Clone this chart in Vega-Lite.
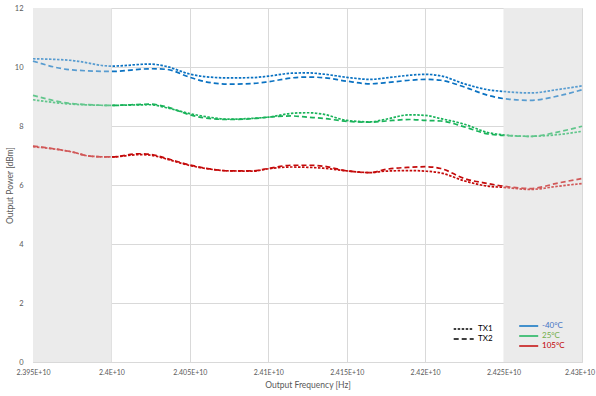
{
  "$schema": "https://vega.github.io/schema/vega-lite/v6.json",
  "autosize": "none",
  "width": 549,
  "height": 354,
  "padding": {"left": 33, "top": 8, "right": 14, "bottom": 34},
  "background": "white",
  "config": {
    "view": {"stroke": null},
    "font": "Lato",
    "axis": {
      "labelFont": "Lato", "labelFontSize": 7.5, "labelColor": "#595959",
      "titleFont": "Lato", "titleFontSize": 8.5, "titleColor": "#595959", "titleFontWeight": "normal",
      "gridColor": "#d9d9d9", "gridWidth": 1, "domainColor": "#d9d9d9", "ticks": false
    }
  },
  "datasets": {
    "bands": [
      {"start": 23950000000, "end": 24000000000},
      {"start": 24250000000, "end": 24300000000}
    ],
    "power": [
      {"f": 23950000000, "p": 10.28, "tx": "TX1", "t": "-40°C"},
      {"f": 23975000000, "p": 10.22, "tx": "TX1", "t": "-40°C"},
      {"f": 24000000000, "p": 10.03, "tx": "TX1", "t": "-40°C"},
      {"f": 24025000000, "p": 10.1, "tx": "TX1", "t": "-40°C"},
      {"f": 24035000000, "p": 10.02, "tx": "TX1", "t": "-40°C"},
      {"f": 24050000000, "p": 9.76, "tx": "TX1", "t": "-40°C"},
      {"f": 24060000000, "p": 9.67, "tx": "TX1", "t": "-40°C"},
      {"f": 24075000000, "p": 9.63, "tx": "TX1", "t": "-40°C"},
      {"f": 24090000000, "p": 9.64, "tx": "TX1", "t": "-40°C"},
      {"f": 24100000000, "p": 9.69, "tx": "TX1", "t": "-40°C"},
      {"f": 24115000000, "p": 9.79, "tx": "TX1", "t": "-40°C"},
      {"f": 24125000000, "p": 9.8, "tx": "TX1", "t": "-40°C"},
      {"f": 24135000000, "p": 9.76, "tx": "TX1", "t": "-40°C"},
      {"f": 24150000000, "p": 9.65, "tx": "TX1", "t": "-40°C"},
      {"f": 24165000000, "p": 9.58, "tx": "TX1", "t": "-40°C"},
      {"f": 24175000000, "p": 9.63, "tx": "TX1", "t": "-40°C"},
      {"f": 24190000000, "p": 9.72, "tx": "TX1", "t": "-40°C"},
      {"f": 24200000000, "p": 9.75, "tx": "TX1", "t": "-40°C"},
      {"f": 24210000000, "p": 9.7, "tx": "TX1", "t": "-40°C"},
      {"f": 24225000000, "p": 9.43, "tx": "TX1", "t": "-40°C"},
      {"f": 24240000000, "p": 9.23, "tx": "TX1", "t": "-40°C"},
      {"f": 24250000000, "p": 9.17, "tx": "TX1", "t": "-40°C"},
      {"f": 24267000000, "p": 9.12, "tx": "TX1", "t": "-40°C"},
      {"f": 24285000000, "p": 9.24, "tx": "TX1", "t": "-40°C"},
      {"f": 24300000000, "p": 9.36, "tx": "TX1", "t": "-40°C"},

      {"f": 23950000000, "p": 10.2, "tx": "TX2", "t": "-40°C"},
      {"f": 23975000000, "p": 9.9, "tx": "TX2", "t": "-40°C"},
      {"f": 24000000000, "p": 9.85, "tx": "TX2", "t": "-40°C"},
      {"f": 24025000000, "p": 9.94, "tx": "TX2", "t": "-40°C"},
      {"f": 24035000000, "p": 9.92, "tx": "TX2", "t": "-40°C"},
      {"f": 24050000000, "p": 9.65, "tx": "TX2", "t": "-40°C"},
      {"f": 24060000000, "p": 9.5, "tx": "TX2", "t": "-40°C"},
      {"f": 24075000000, "p": 9.42, "tx": "TX2", "t": "-40°C"},
      {"f": 24090000000, "p": 9.44, "tx": "TX2", "t": "-40°C"},
      {"f": 24100000000, "p": 9.5, "tx": "TX2", "t": "-40°C"},
      {"f": 24115000000, "p": 9.63, "tx": "TX2", "t": "-40°C"},
      {"f": 24125000000, "p": 9.66, "tx": "TX2", "t": "-40°C"},
      {"f": 24135000000, "p": 9.64, "tx": "TX2", "t": "-40°C"},
      {"f": 24150000000, "p": 9.52, "tx": "TX2", "t": "-40°C"},
      {"f": 24165000000, "p": 9.43, "tx": "TX2", "t": "-40°C"},
      {"f": 24175000000, "p": 9.47, "tx": "TX2", "t": "-40°C"},
      {"f": 24190000000, "p": 9.55, "tx": "TX2", "t": "-40°C"},
      {"f": 24200000000, "p": 9.58, "tx": "TX2", "t": "-40°C"},
      {"f": 24210000000, "p": 9.55, "tx": "TX2", "t": "-40°C"},
      {"f": 24225000000, "p": 9.32, "tx": "TX2", "t": "-40°C"},
      {"f": 24240000000, "p": 9.04, "tx": "TX2", "t": "-40°C"},
      {"f": 24250000000, "p": 8.93, "tx": "TX2", "t": "-40°C"},
      {"f": 24267000000, "p": 8.87, "tx": "TX2", "t": "-40°C"},
      {"f": 24285000000, "p": 9.02, "tx": "TX2", "t": "-40°C"},
      {"f": 24300000000, "p": 9.23, "tx": "TX2", "t": "-40°C"},

      {"f": 23950000000, "p": 8.89, "tx": "TX1", "t": "25°C"},
      {"f": 23975000000, "p": 8.74, "tx": "TX1", "t": "25°C"},
      {"f": 24000000000, "p": 8.7, "tx": "TX1", "t": "25°C"},
      {"f": 24025000000, "p": 8.72, "tx": "TX1", "t": "25°C"},
      {"f": 24035000000, "p": 8.62, "tx": "TX1", "t": "25°C"},
      {"f": 24050000000, "p": 8.42, "tx": "TX1", "t": "25°C"},
      {"f": 24060000000, "p": 8.32, "tx": "TX1", "t": "25°C"},
      {"f": 24075000000, "p": 8.23, "tx": "TX1", "t": "25°C"},
      {"f": 24090000000, "p": 8.26, "tx": "TX1", "t": "25°C"},
      {"f": 24100000000, "p": 8.3, "tx": "TX1", "t": "25°C"},
      {"f": 24115000000, "p": 8.43, "tx": "TX1", "t": "25°C"},
      {"f": 24125000000, "p": 8.45, "tx": "TX1", "t": "25°C"},
      {"f": 24135000000, "p": 8.4, "tx": "TX1", "t": "25°C"},
      {"f": 24150000000, "p": 8.19, "tx": "TX1", "t": "25°C"},
      {"f": 24165000000, "p": 8.14, "tx": "TX1", "t": "25°C"},
      {"f": 24175000000, "p": 8.23, "tx": "TX1", "t": "25°C"},
      {"f": 24190000000, "p": 8.38, "tx": "TX1", "t": "25°C"},
      {"f": 24200000000, "p": 8.36, "tx": "TX1", "t": "25°C"},
      {"f": 24210000000, "p": 8.25, "tx": "TX1", "t": "25°C"},
      {"f": 24225000000, "p": 8.06, "tx": "TX1", "t": "25°C"},
      {"f": 24240000000, "p": 7.78, "tx": "TX1", "t": "25°C"},
      {"f": 24250000000, "p": 7.7, "tx": "TX1", "t": "25°C"},
      {"f": 24267000000, "p": 7.65, "tx": "TX1", "t": "25°C"},
      {"f": 24285000000, "p": 7.71, "tx": "TX1", "t": "25°C"},
      {"f": 24300000000, "p": 7.82, "tx": "TX1", "t": "25°C"},

      {"f": 23950000000, "p": 9.04, "tx": "TX2", "t": "25°C"},
      {"f": 23975000000, "p": 8.76, "tx": "TX2", "t": "25°C"},
      {"f": 24000000000, "p": 8.7, "tx": "TX2", "t": "25°C"},
      {"f": 24025000000, "p": 8.74, "tx": "TX2", "t": "25°C"},
      {"f": 24035000000, "p": 8.65, "tx": "TX2", "t": "25°C"},
      {"f": 24050000000, "p": 8.38, "tx": "TX2", "t": "25°C"},
      {"f": 24060000000, "p": 8.27, "tx": "TX2", "t": "25°C"},
      {"f": 24075000000, "p": 8.22, "tx": "TX2", "t": "25°C"},
      {"f": 24090000000, "p": 8.25, "tx": "TX2", "t": "25°C"},
      {"f": 24100000000, "p": 8.3, "tx": "TX2", "t": "25°C"},
      {"f": 24115000000, "p": 8.34, "tx": "TX2", "t": "25°C"},
      {"f": 24125000000, "p": 8.3, "tx": "TX2", "t": "25°C"},
      {"f": 24135000000, "p": 8.26, "tx": "TX2", "t": "25°C"},
      {"f": 24150000000, "p": 8.16, "tx": "TX2", "t": "25°C"},
      {"f": 24165000000, "p": 8.13, "tx": "TX2", "t": "25°C"},
      {"f": 24175000000, "p": 8.17, "tx": "TX2", "t": "25°C"},
      {"f": 24190000000, "p": 8.22, "tx": "TX2", "t": "25°C"},
      {"f": 24200000000, "p": 8.19, "tx": "TX2", "t": "25°C"},
      {"f": 24210000000, "p": 8.17, "tx": "TX2", "t": "25°C"},
      {"f": 24225000000, "p": 7.97, "tx": "TX2", "t": "25°C"},
      {"f": 24240000000, "p": 7.73, "tx": "TX2", "t": "25°C"},
      {"f": 24250000000, "p": 7.68, "tx": "TX2", "t": "25°C"},
      {"f": 24267000000, "p": 7.65, "tx": "TX2", "t": "25°C"},
      {"f": 24285000000, "p": 7.8, "tx": "TX2", "t": "25°C"},
      {"f": 24300000000, "p": 7.99, "tx": "TX2", "t": "25°C"},

      {"f": 23950000000, "p": 7.3, "tx": "TX1", "t": "105°C"},
      {"f": 23975000000, "p": 7.12, "tx": "TX1", "t": "105°C"},
      {"f": 23986000000, "p": 6.98, "tx": "TX1", "t": "105°C"},
      {"f": 24000000000, "p": 6.95, "tx": "TX1", "t": "105°C"},
      {"f": 24018000000, "p": 7.03, "tx": "TX1", "t": "105°C"},
      {"f": 24025000000, "p": 7.01, "tx": "TX1", "t": "105°C"},
      {"f": 24035000000, "p": 6.88, "tx": "TX1", "t": "105°C"},
      {"f": 24050000000, "p": 6.66, "tx": "TX1", "t": "105°C"},
      {"f": 24060000000, "p": 6.56, "tx": "TX1", "t": "105°C"},
      {"f": 24075000000, "p": 6.48, "tx": "TX1", "t": "105°C"},
      {"f": 24090000000, "p": 6.47, "tx": "TX1", "t": "105°C"},
      {"f": 24100000000, "p": 6.55, "tx": "TX1", "t": "105°C"},
      {"f": 24115000000, "p": 6.61, "tx": "TX1", "t": "105°C"},
      {"f": 24125000000, "p": 6.6, "tx": "TX1", "t": "105°C"},
      {"f": 24135000000, "p": 6.57, "tx": "TX1", "t": "105°C"},
      {"f": 24150000000, "p": 6.48, "tx": "TX1", "t": "105°C"},
      {"f": 24165000000, "p": 6.42, "tx": "TX1", "t": "105°C"},
      {"f": 24175000000, "p": 6.47, "tx": "TX1", "t": "105°C"},
      {"f": 24190000000, "p": 6.49, "tx": "TX1", "t": "105°C"},
      {"f": 24200000000, "p": 6.47, "tx": "TX1", "t": "105°C"},
      {"f": 24210000000, "p": 6.41, "tx": "TX1", "t": "105°C"},
      {"f": 24225000000, "p": 6.14, "tx": "TX1", "t": "105°C"},
      {"f": 24240000000, "p": 5.96, "tx": "TX1", "t": "105°C"},
      {"f": 24250000000, "p": 5.92, "tx": "TX1", "t": "105°C"},
      {"f": 24267000000, "p": 5.85, "tx": "TX1", "t": "105°C"},
      {"f": 24285000000, "p": 5.96, "tx": "TX1", "t": "105°C"},
      {"f": 24300000000, "p": 6.05, "tx": "TX1", "t": "105°C"},

      {"f": 23950000000, "p": 7.32, "tx": "TX2", "t": "105°C"},
      {"f": 23975000000, "p": 7.12, "tx": "TX2", "t": "105°C"},
      {"f": 23986000000, "p": 6.98, "tx": "TX2", "t": "105°C"},
      {"f": 24000000000, "p": 6.95, "tx": "TX2", "t": "105°C"},
      {"f": 24018000000, "p": 7.06, "tx": "TX2", "t": "105°C"},
      {"f": 24025000000, "p": 7.04, "tx": "TX2", "t": "105°C"},
      {"f": 24035000000, "p": 6.9, "tx": "TX2", "t": "105°C"},
      {"f": 24050000000, "p": 6.68, "tx": "TX2", "t": "105°C"},
      {"f": 24060000000, "p": 6.57, "tx": "TX2", "t": "105°C"},
      {"f": 24075000000, "p": 6.48, "tx": "TX2", "t": "105°C"},
      {"f": 24090000000, "p": 6.48, "tx": "TX2", "t": "105°C"},
      {"f": 24100000000, "p": 6.56, "tx": "TX2", "t": "105°C"},
      {"f": 24115000000, "p": 6.67, "tx": "TX2", "t": "105°C"},
      {"f": 24125000000, "p": 6.67, "tx": "TX2", "t": "105°C"},
      {"f": 24135000000, "p": 6.64, "tx": "TX2", "t": "105°C"},
      {"f": 24150000000, "p": 6.48, "tx": "TX2", "t": "105°C"},
      {"f": 24165000000, "p": 6.42, "tx": "TX2", "t": "105°C"},
      {"f": 24175000000, "p": 6.53, "tx": "TX2", "t": "105°C"},
      {"f": 24190000000, "p": 6.6, "tx": "TX2", "t": "105°C"},
      {"f": 24200000000, "p": 6.62, "tx": "TX2", "t": "105°C"},
      {"f": 24210000000, "p": 6.56, "tx": "TX2", "t": "105°C"},
      {"f": 24225000000, "p": 6.22, "tx": "TX2", "t": "105°C"},
      {"f": 24240000000, "p": 6.05, "tx": "TX2", "t": "105°C"},
      {"f": 24250000000, "p": 5.96, "tx": "TX2", "t": "105°C"},
      {"f": 24267000000, "p": 5.88, "tx": "TX2", "t": "105°C"},
      {"f": 24285000000, "p": 6.07, "tx": "TX2", "t": "105°C"},
      {"f": 24300000000, "p": 6.22, "tx": "TX2", "t": "105°C"}
    ]
  },
  "layer": [
    {
      "data": {"name": "bands"},
      "mark": {"type": "rect", "color": "#ebebeb"},
      "encoding": {
        "x": {
          "field": "start", "type": "quantitative",
          "scale": {"domain": [23950000000, 24300000000], "nice": false, "zero": false},
          "axis": {
            "title": "Output Frequency [Hz]",
            "values": [23950000000, 24000000000, 24050000000, 24100000000, 24150000000, 24200000000, 24250000000, 24300000000],
            "labelExpr": "replace(format(datum.value, '.4~e'), 'e', 'E')",
            "labelOffset": {"condition": {"test": "datum.value >= 24300000000", "value": -2.5}, "value": 0},
            "labelFontSize": 7, "labelPadding": 6, "titlePadding": 5, "labelFlush": false
          }
        },
        "x2": {"field": "end"}
      }
    },
    {
      "data": {"name": "power"},
      "mark": {"type": "line", "interpolate": "monotone", "strokeWidth": 1.7},
      "encoding": {
        "x": {"field": "f", "type": "quantitative"},
        "y": {
          "field": "p", "type": "quantitative",
          "scale": {"domain": [0, 12], "nice": false},
          "axis": {
            "title": "Output Power [dBm]",
            "values": [0, 2, 4, 6, 8, 10, 12],
            "labelPadding": 10, "titleX": -19, "titleY": 177, "domain": true
          }
        },
        "color": {
          "field": "t", "type": "nominal",
          "scale": {"domain": ["-40°C", "25°C", "105°C"], "range": ["#0a72c2", "#19b35a", "#c40a0a"]},
          "legend": {
            "title": null, "orient": "none", "legendX": 489.7, "legendY": 312,
            "padding": 0, "rowPadding": 0, "symbolType": "M-1.9,0H1.9", "symbolSize": 100,
            "symbolStrokeWidth": 1.5, "labelFont": "Lato", "labelFontSize": 8, "labelOffset": 7.3,
            "encode": {
              "labels": {"update": {"fill": {"signal": "datum.value === '-40°C' ? '#4472c4' : datum.value === '25°C' ? '#70ad47' : '#c00000'"}}}
            }
          }
        },
        "strokeDash": {
          "field": "tx", "type": "nominal",
          "scale": {"domain": ["TX1", "TX2"], "range": [[2.5, 1.5], [5, 3]]},
          "legend": {
            "title": null, "orient": "none", "legendX": 424.7, "legendY": 315,
            "padding": 0, "rowPadding": 0, "symbolType": "M-2,0H2", "symbolSize": 100,
            "symbolStrokeWidth": 1.3, "symbolStrokeColor": "#000000",
            "labelFont": "Lato", "labelFontSize": 8, "labelColor": "#000000", "labelOffset": 8.3
          }
        },
        "detail": {"field": "tx"}
      }
    },
    {
      "data": {"name": "bands"},
      "mark": {"type": "rect", "color": "#ebebeb", "opacity": 0.35},
      "encoding": {
        "x": {"field": "start", "type": "quantitative"},
        "x2": {"field": "end"}
      }
    }
  ]
}
